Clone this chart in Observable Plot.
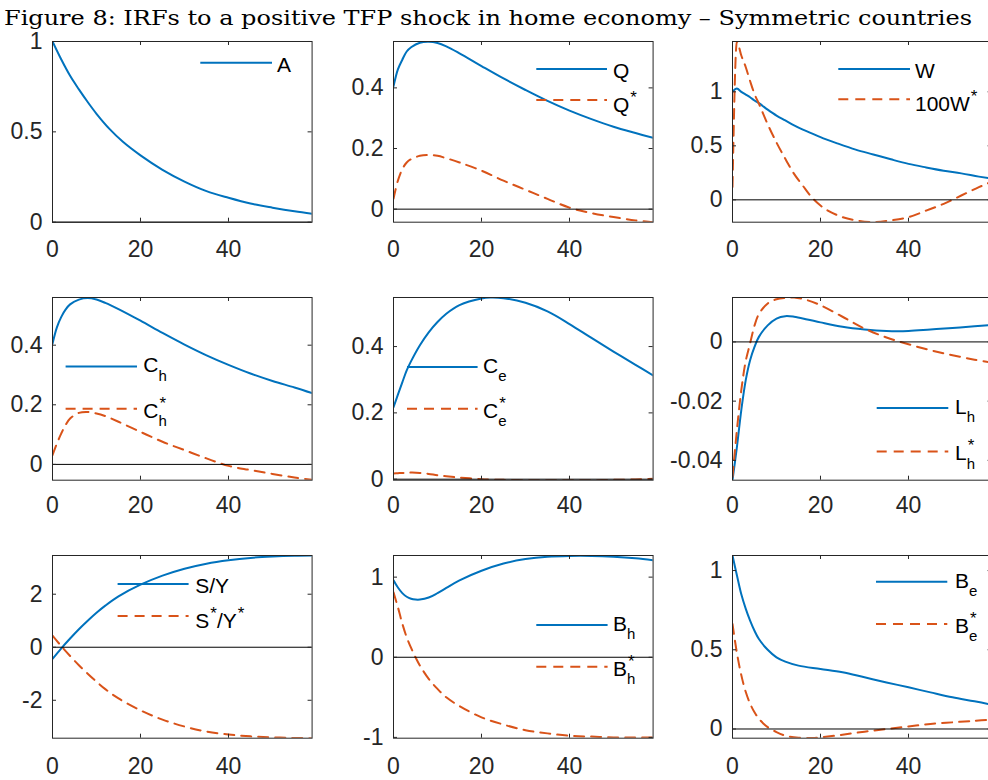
<!DOCTYPE html>
<html><head><meta charset="utf-8">
<script src="https://cdn.jsdelivr.net/npm/d3@7"></script>
<script src="https://cdn.jsdelivr.net/npm/@observablehq/plot@0.6"></script>
<style>
html,body{margin:0;padding:0;background:#fff;overflow:hidden;}
#root{position:relative;width:988px;height:780px;overflow:hidden;font-family:"Liberation Sans",Arial,sans-serif;}
#root svg{position:absolute;}
</style></head><body><div id="root"></div>
<script>
// ---------- data ----------
const XTICKS = [0, 20, 40];
const TITLE = "Figure 8: IRFs to a positive TFP shock in home economy \u2013 Symmetric countries";

const tA = [0,2,4,6,8,10,13,16,20,25,30,35,40,45,50,55,59];
const A  = [1,0.90,0.81,0.735,0.665,0.60,0.515,0.445,0.37,0.29,0.225,0.172,0.135,0.103,0.08,0.06,0.047];

const tQ = [0,1,2,3,4,6,8,10,12,15,20,25,30,35,40,45,50,55,59];
const Q  = [0.405,0.461,0.493,0.52,0.534,0.549,0.552,0.548,0.537,0.514,0.472,0.431,0.393,0.357,0.325,0.297,0.272,0.251,0.235];
const Qs = [0.034,0.094,0.132,0.154,0.165,0.176,0.179,0.176,0.168,0.154,0.127,0.094,0.064,0.034,0.005,-0.013,-0.026,-0.037,-0.043];

const tW  = [0,1,2,3,4,5,6,8,10,12,14,16,18,20,24,28,32,36,40,44,48,52,56,59];
const W   = [1.0,1.03,1.0,0.975,0.95,0.92,0.895,0.835,0.78,0.735,0.69,0.65,0.615,0.58,0.52,0.465,0.42,0.375,0.333,0.3,0.27,0.245,0.215,0.195];
const W100s = [0.12,1.466,1.336,1.23,1.10,0.98,0.89,0.70,0.53,0.38,0.24,0.13,0.024,-0.053,-0.145,-0.19,-0.207,-0.19,-0.16,-0.1,-0.037,0.04,0.117,0.17];

const tCh = [0,1,2,3,4,6,8,10,12,15,20,25,30,35,40,45,50,55,59];
const Ch  = [0.405,0.46,0.495,0.52,0.537,0.553,0.558,0.553,0.542,0.521,0.482,0.441,0.402,0.366,0.334,0.305,0.28,0.258,0.239];
const Chs = [0.031,0.07,0.104,0.133,0.154,0.173,0.176,0.171,0.162,0.143,0.109,0.076,0.048,0.02,-0.005,-0.019,-0.032,-0.044,-0.052];

const tCe = [0,1,2,3,4,6,8,10,12,15,20,22,25,30,35,40,45,50,55,59];
const Ce  = [0.217,0.255,0.292,0.328,0.356,0.404,0.443,0.474,0.499,0.525,0.545,0.548,0.546,0.532,0.506,0.468,0.426,0.385,0.345,0.313];
const Ces = [0.017,0.018,0.019,0.019,0.02,0.019,0.016,0.012,0.009,0.005,0.0,-0.001,-0.002,-0.003,-0.003,-0.003,-0.003,-0.002,-0.001,0.001];

const tL  = [0,1,2,3,4,5,6,8,10,12,14,17,20,25,30,35,40,45,50,55,59];
const Lh  = [-0.0467,-0.0355,-0.023,-0.013,-0.0062,-0.0017,0.0017,0.0056,0.0079,0.0087,0.0085,0.0076,0.0066,0.0051,0.0042,0.0037,0.0037,0.0042,0.0047,0.0053,0.0057];
const Lhs = [-0.0456,-0.0298,-0.0163,-0.0065,-0.0005,0.0055,0.0094,0.013,0.0144,0.0149,0.015,0.0141,0.0124,0.0085,0.0045,0.0015,-0.0008,-0.0028,-0.0045,-0.006,-0.007];

const tS  = [0,2,4,6,8,10,12,15,20,25,30,35,40,45,50,55,59];
const SY  = [-0.44,-0.04,0.33,0.68,1.0,1.3,1.57,1.92,2.36,2.7,2.96,3.15,3.28,3.37,3.42,3.45,3.46];
const SYs = [0.44,0.04,-0.33,-0.68,-1.0,-1.3,-1.58,-1.93,-2.38,-2.73,-2.99,-3.18,-3.29,-3.36,-3.40,-3.42,-3.43];

const tB  = [0,1,2,3,4,5,6,8,10,12,15,20,25,30,35,40,45,50,55,59];
const Bh  = [0.96,0.87,0.80,0.755,0.73,0.72,0.72,0.745,0.80,0.865,0.96,1.08,1.17,1.225,1.255,1.265,1.265,1.255,1.235,1.21];
const Bhs = [0.81,0.625,0.42,0.25,0.117,0.0,-0.104,-0.27,-0.395,-0.5,-0.61,-0.75,-0.84,-0.91,-0.95,-0.98,-0.99,-1.0,-1.0,-1.0];

const tBe  = [0,1,2,3,4,5,6,8,10,12,15,20,25,30,35,40,45,50,55,59];
const Be   = [1.095,0.97,0.85,0.76,0.684,0.62,0.568,0.5,0.452,0.425,0.4,0.379,0.358,0.326,0.294,0.263,0.231,0.2,0.175,0.153];
const tBes = [0,1,2,3,4,5,6,7,8,10,12,15,18,20,25,30,35,40,45,50,55,59];
const Bes  = [0.663,0.48,0.34,0.235,0.16,0.105,0.065,0.035,0.012,-0.02,-0.042,-0.055,-0.057,-0.053,-0.036,-0.017,0.0,0.016,0.032,0.042,0.052,0.06];

// ---------- layout / options ----------
const BLUE = "#0072BD", ORANGE = "#D95319";
const panels = [
  {left:51.7, top:41, w:259.6, h:180.7, yDomain:[0,1], yTicks:[0,0.5,1], xPad:18,
   series:[{t:tA, v:A, color:BLUE}],
   legend:[{x1:148.3,x2:220,y:21.7,tx:225,label:"A"}]},
  {left:392.7, top:41, w:259.6, h:180.7, yDomain:[-0.043,0.553], yTicks:[0,0.2,0.4], xPad:18,
   series:[{t:tQ, v:Q, color:BLUE},{t:tQ, v:Qs, color:ORANGE, dash:true}],
   legend:[{x1:143.3,x2:214,y:28,tx:220,label:"Q"},{x1:143.3,x2:214,y:59,tx:220,label:"Q^*",dash:true}]},
  {left:732, top:41, w:259.6, h:180.7, yDomain:[-0.207,1.466], yTicks:[0,0.5,1], xPad:18, curve:"monotone-x",
   series:[{t:tW, v:W, color:BLUE},{t:tW, v:W100s, color:ORANGE, dash:true}],
   legend:[{x1:106.3,x2:178,y:28,tx:183,label:"W"},{x1:106.3,x2:178,y:58.3,tx:183,label:"100W^*",dash:true}]},
  {left:51.7, top:297.3, w:259.6, h:182.7, yDomain:[-0.053,0.56], yTicks:[0,0.2,0.4], xPad:16.5,
   series:[{t:tCh, v:Ch, color:BLUE},{t:tCh, v:Chs, color:ORANGE, dash:true}],
   legend:[{x1:13.6,x2:85,y:69.4,tx:91.3,label:"C_h"},{x1:13.6,x2:85,y:111.7,tx:91.3,label:"C_h^*",dash:true}]},
  {left:392.7, top:297.3, w:259.6, h:182.7, yDomain:[-0.003,0.548], yTicks:[0,0.2,0.4], xPad:16.5,
   series:[{t:tCe, v:Ce, color:BLUE},{t:tCe, v:Ces, color:ORANGE, dash:true}],
   legend:[{x1:14,x2:84.6,y:70,tx:90,label:"C_e"},{x1:14,x2:84.6,y:111.7,tx:90,label:"C_e^*",dash:true}]},
  {left:732, top:297.3, w:259.6, h:182.7, yDomain:[-0.0467,0.015], yTicks:[-0.04,-0.02,0], xPad:16.5,
   series:[{t:tL, v:Lh, color:BLUE},{t:tL, v:Lhs, color:ORANGE, dash:true}],
   legend:[{x1:144.7,x2:216.3,y:111,tx:223,label:"L_h"},{x1:144.7,x2:216.3,y:154.4,tx:223,label:"L_h^*",dash:true}]},
  {left:51.7, top:555, w:259.6, h:182.7, yDomain:[-3.43,3.46], yTicks:[-2,0,2], xPad:19,
   series:[{t:tS, v:SY, color:BLUE},{t:tS, v:SYs, color:ORANGE, dash:true}],
   legend:[{x1:65.6,x2:136.6,y:29,tx:143.3,label:"S/Y"},{x1:65.6,x2:136.6,y:61,tx:143.3,label:"S^*/Y^*",dash:true}]},
  {left:392.7, top:555, w:259.6, h:182.7, yDomain:[-1.01,1.27], yTicks:[-1,0,1], xPad:19,
   series:[{t:tB, v:Bh, color:BLUE},{t:tB, v:Bhs, color:ORANGE, dash:true}],
   legend:[{x1:143.3,x2:214.6,y:70,tx:220,label:"B_h"},{x1:143.3,x2:214.6,y:111.7,tx:220,label:"B_h^*",dash:true}]},
  {left:732, top:555, w:259.6, h:182.7, yDomain:[-0.058,1.095], yTicks:[0,0.5,1], xPad:19,
   series:[{t:tBe, v:Be, color:BLUE},{t:tBes, v:Bes, color:ORANGE, dash:true}],
   legend:[{x1:144,x2:215.3,y:26.7,tx:223,label:"B_e"},{x1:144,x2:215.3,y:69,tx:223,label:"B_e^*",dash:true}]}
];

const DASH = "10,7";
const FONT = "'Liberation Sans', Arial, sans-serif";
const root = document.getElementById("root");

// title
{
  const s = d3.select(root).append("svg").attr("width", 988).attr("height", 34).style("left","0px").style("top","0px");
  s.append("text").attr("x", 4).attr("y", 25).attr("text-anchor", "start")
    .attr("font-family", "'DejaVu Serif', 'Liberation Serif', serif").attr("font-size", 21)
    .attr("textLength", 968).attr("lengthAdjust", "spacingAndGlyphs").attr("fill", "#000")
    .text(TITLE);
}

function parseLabel(str) {
  const parts = [];
  let i = 0;
  while (i < str.length) {
    const c = str[i];
    if (c === "_" || c === "^") { parts.push({k: c === "_" ? "sub" : "sup", s: str[i+1]}); i += 2; }
    else {
      const last = parts[parts.length-1];
      if (last && last.k === "main") last.s += c; else parts.push({k:"main", s:c});
      i++;
    }
  }
  return parts;
}

function drawLabel(g, x, y, str) {
  const parts = parseLabel(str);
  const hasSub = parts.some(p => p.k === "sub"), hasSup = parts.some(p => p.k === "sup");
  const base = y + (hasSub && hasSup ? 9 : hasSub ? 6 : hasSup ? 12 : 9);
  let cx = x, slot = 0;
  for (const p of parts) {
    if (p.k === "main") {
      cx += slot; slot = 0;
      const t = g.append("text").attr("x", cx).attr("y", base).attr("font-size", 21).attr("fill", "#000").text(p.s);
      cx += t.node().getComputedTextLength();
    } else {
      const t = g.append("text").attr("x", cx + (p.k === "sup" ? 1 : 0))
        .attr("y", p.k === "sub" ? base + 8.5 : base - 9)
        .attr("font-size", p.k === "sub" ? 15 : 17).attr("fill", "#000").text(p.s);
      slot = Math.max(slot, t.node().getComputedTextLength() + (p.k === "sup" ? 1 : 0));
    }
  }
}

for (const p of panels) {
  const mL = 70, mR = 12, mT = 12, mB = 45;
  const W_ = mL + p.w + mR, H_ = mT + p.h + mB;
  const marks = [];
  for (const s of p.series) {
    const data = s.t.map((t, i) => ({t, v: s.v[i]}));
    marks.push(Plot.line(data, {x: "t", y: "v", stroke: s.color, strokeWidth: 2,
      ...(s.dash ? {strokeDasharray: DASH} : {}), curve: p.curve || "catmull-rom", clip: true}));
  }
  marks.push(Plot.ruleY([0], {stroke: "#000", strokeWidth: 1}));
  marks.push(Plot.frame({stroke: "#262626", strokeWidth: 1}));
  marks.push(Plot.tickX(XTICKS, {x: d => d, insetTop: p.h - 4, stroke: "#262626"}));
  marks.push(Plot.tickX(XTICKS, {x: d => d, insetBottom: p.h - 4, stroke: "#262626"}));
  marks.push(Plot.tickY(p.yTicks, {y: d => d, insetRight: p.w - 4, stroke: "#262626"}));
  marks.push(Plot.tickY(p.yTicks, {y: d => d, insetLeft: p.w - 4, stroke: "#262626"}));
  marks.push(Plot.axisX(XTICKS, {tickSize: 0, tickPadding: p.xPad, tickFormat: d => String(d), label: null, fontSize: 23, fontFamily: FONT}));
  marks.push(Plot.axisY(p.yTicks, {tickSize: 0, tickPadding: 10, tickFormat: d => String(d), label: null, fontSize: 23, fontFamily: FONT}));
  const svg = Plot.plot({
    width: W_, height: H_, marginLeft: mL, marginRight: mR, marginTop: mT, marginBottom: mB,
    x: {domain: [0, 59]}, y: {domain: p.yDomain},
    style: {fontFamily: FONT, fontSize: "23px", color: "#262626",
            background: "transparent", overflow: "visible", maxWidth: "none"},
    marks
  });
  svg.style.left = (p.left - mL) + "px";
  svg.style.top = (p.top - mT) + "px";
  root.appendChild(svg);
  const g = d3.select(svg).append("g").attr("transform", `translate(${mL},${mT})`)
    .attr("font-family", FONT).attr("text-anchor", "start");
  for (const it of p.legend) {
    g.append("line").attr("x1", it.x1).attr("x2", it.x2).attr("y1", it.y).attr("y2", it.y)
      .attr("stroke", it.dash ? ORANGE : BLUE).attr("stroke-width", 2)
      .attr("stroke-dasharray", it.dash ? DASH : null);
    drawLabel(g, it.tx, it.y, it.label);
  }
}
</script></body></html>
